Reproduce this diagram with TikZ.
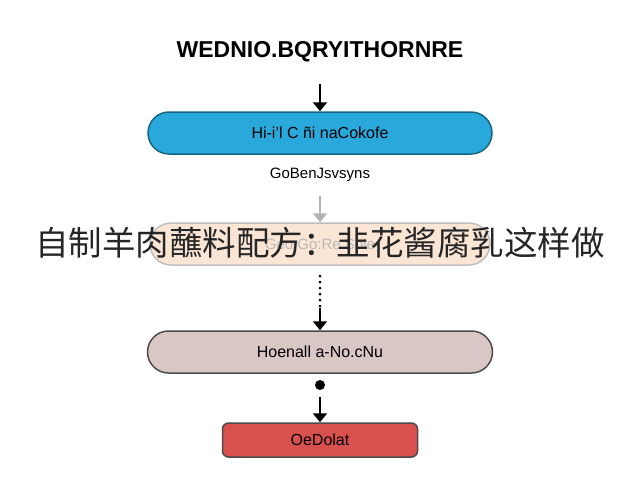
\documentclass[tikz,border=0pt]{standalone}
\usepackage{fontspec}
\setmainfont{Liberation Sans}
\newfontfamily\cjk{Noto Sans CJK SC}
\usetikzlibrary{arrows.meta}
\definecolor{cyanbox}{HTML}{29A8DC}
\definecolor{peach}{HTML}{FBE6D6}
\definecolor{mauve}{HTML}{D9C7C5}
\definecolor{redbox}{HTML}{D9514E}
\begin{document}
\begin{tikzpicture}[x=1pt,y=-1pt,
  box/.style={draw=#1!60!black, line width=1.5pt, rounded corners=21pt, minimum height=42pt},
  arr/.style={-{Triangle[length=9pt,width=14pt]}, line width=2.5pt}]
\useasboundingbox (0,0) rectangle (640,480);
\fill[white] (0,0) rectangle (640,480);
\node[font=\bfseries\fontsize{23}{26}\selectfont] (title) at (320,52) {WEDNIO.BQRYITHORNRE};
\node[box=cyanbox, fill=cyanbox, minimum width=344pt, font=\fontsize{16}{18}\selectfont] (b1) at (320,133) {Hi-i'l C ñi naCokofe};
\node[font=\fontsize{15}{17}\selectfont] (lab) at (320,175) {GoBenJsvsyns};
\node[box=peach, fill=peach, draw=gray!50, minimum width=340pt] (b2) at (320,244) {};
\node[text=gray!55, font=\fontsize{15}{17}\selectfont] (wm) at (320,244) {Geo Go:Re.Sole};
\node[box=mauve, fill=mauve, draw=black!70, minimum width=345pt, font=\fontsize{16}{18}\selectfont] (b3) at (320,352) {Hoenall a-No.cNu};
\node[draw=black!70, line width=1.5pt, fill=redbox, rounded corners=6pt, minimum width=195pt, minimum height=34pt, font=\fontsize{16}{18}\selectfont] (b4) at (320,440) {OeDolat};
\coordinate (a1) at (320,84);
\draw[arr] (a1) -- (b1);
\coordinate (a2) at (320,196);
\draw[arr, gray!60] (a2) -- (b2);
\coordinate (d0) at (320,276);
\coordinate (d1) at (320,308);
\draw[line width=3pt, dash pattern=on 0pt off 6pt, line cap=round] (d0) -- (d1);
\draw[arr] (d1) -- (b3);
\fill (320,385) circle (5pt);
\coordinate (d2) at (320,397);
\draw[arr] (d2) -- (b4);
\node[font=\cjk\fontsize{33.5}{38}\selectfont, text=black!85] (cn) at (320,243) {自制羊肉蘸料配方：韭花酱腐乳这样做};
\end{tikzpicture}
\end{document}
